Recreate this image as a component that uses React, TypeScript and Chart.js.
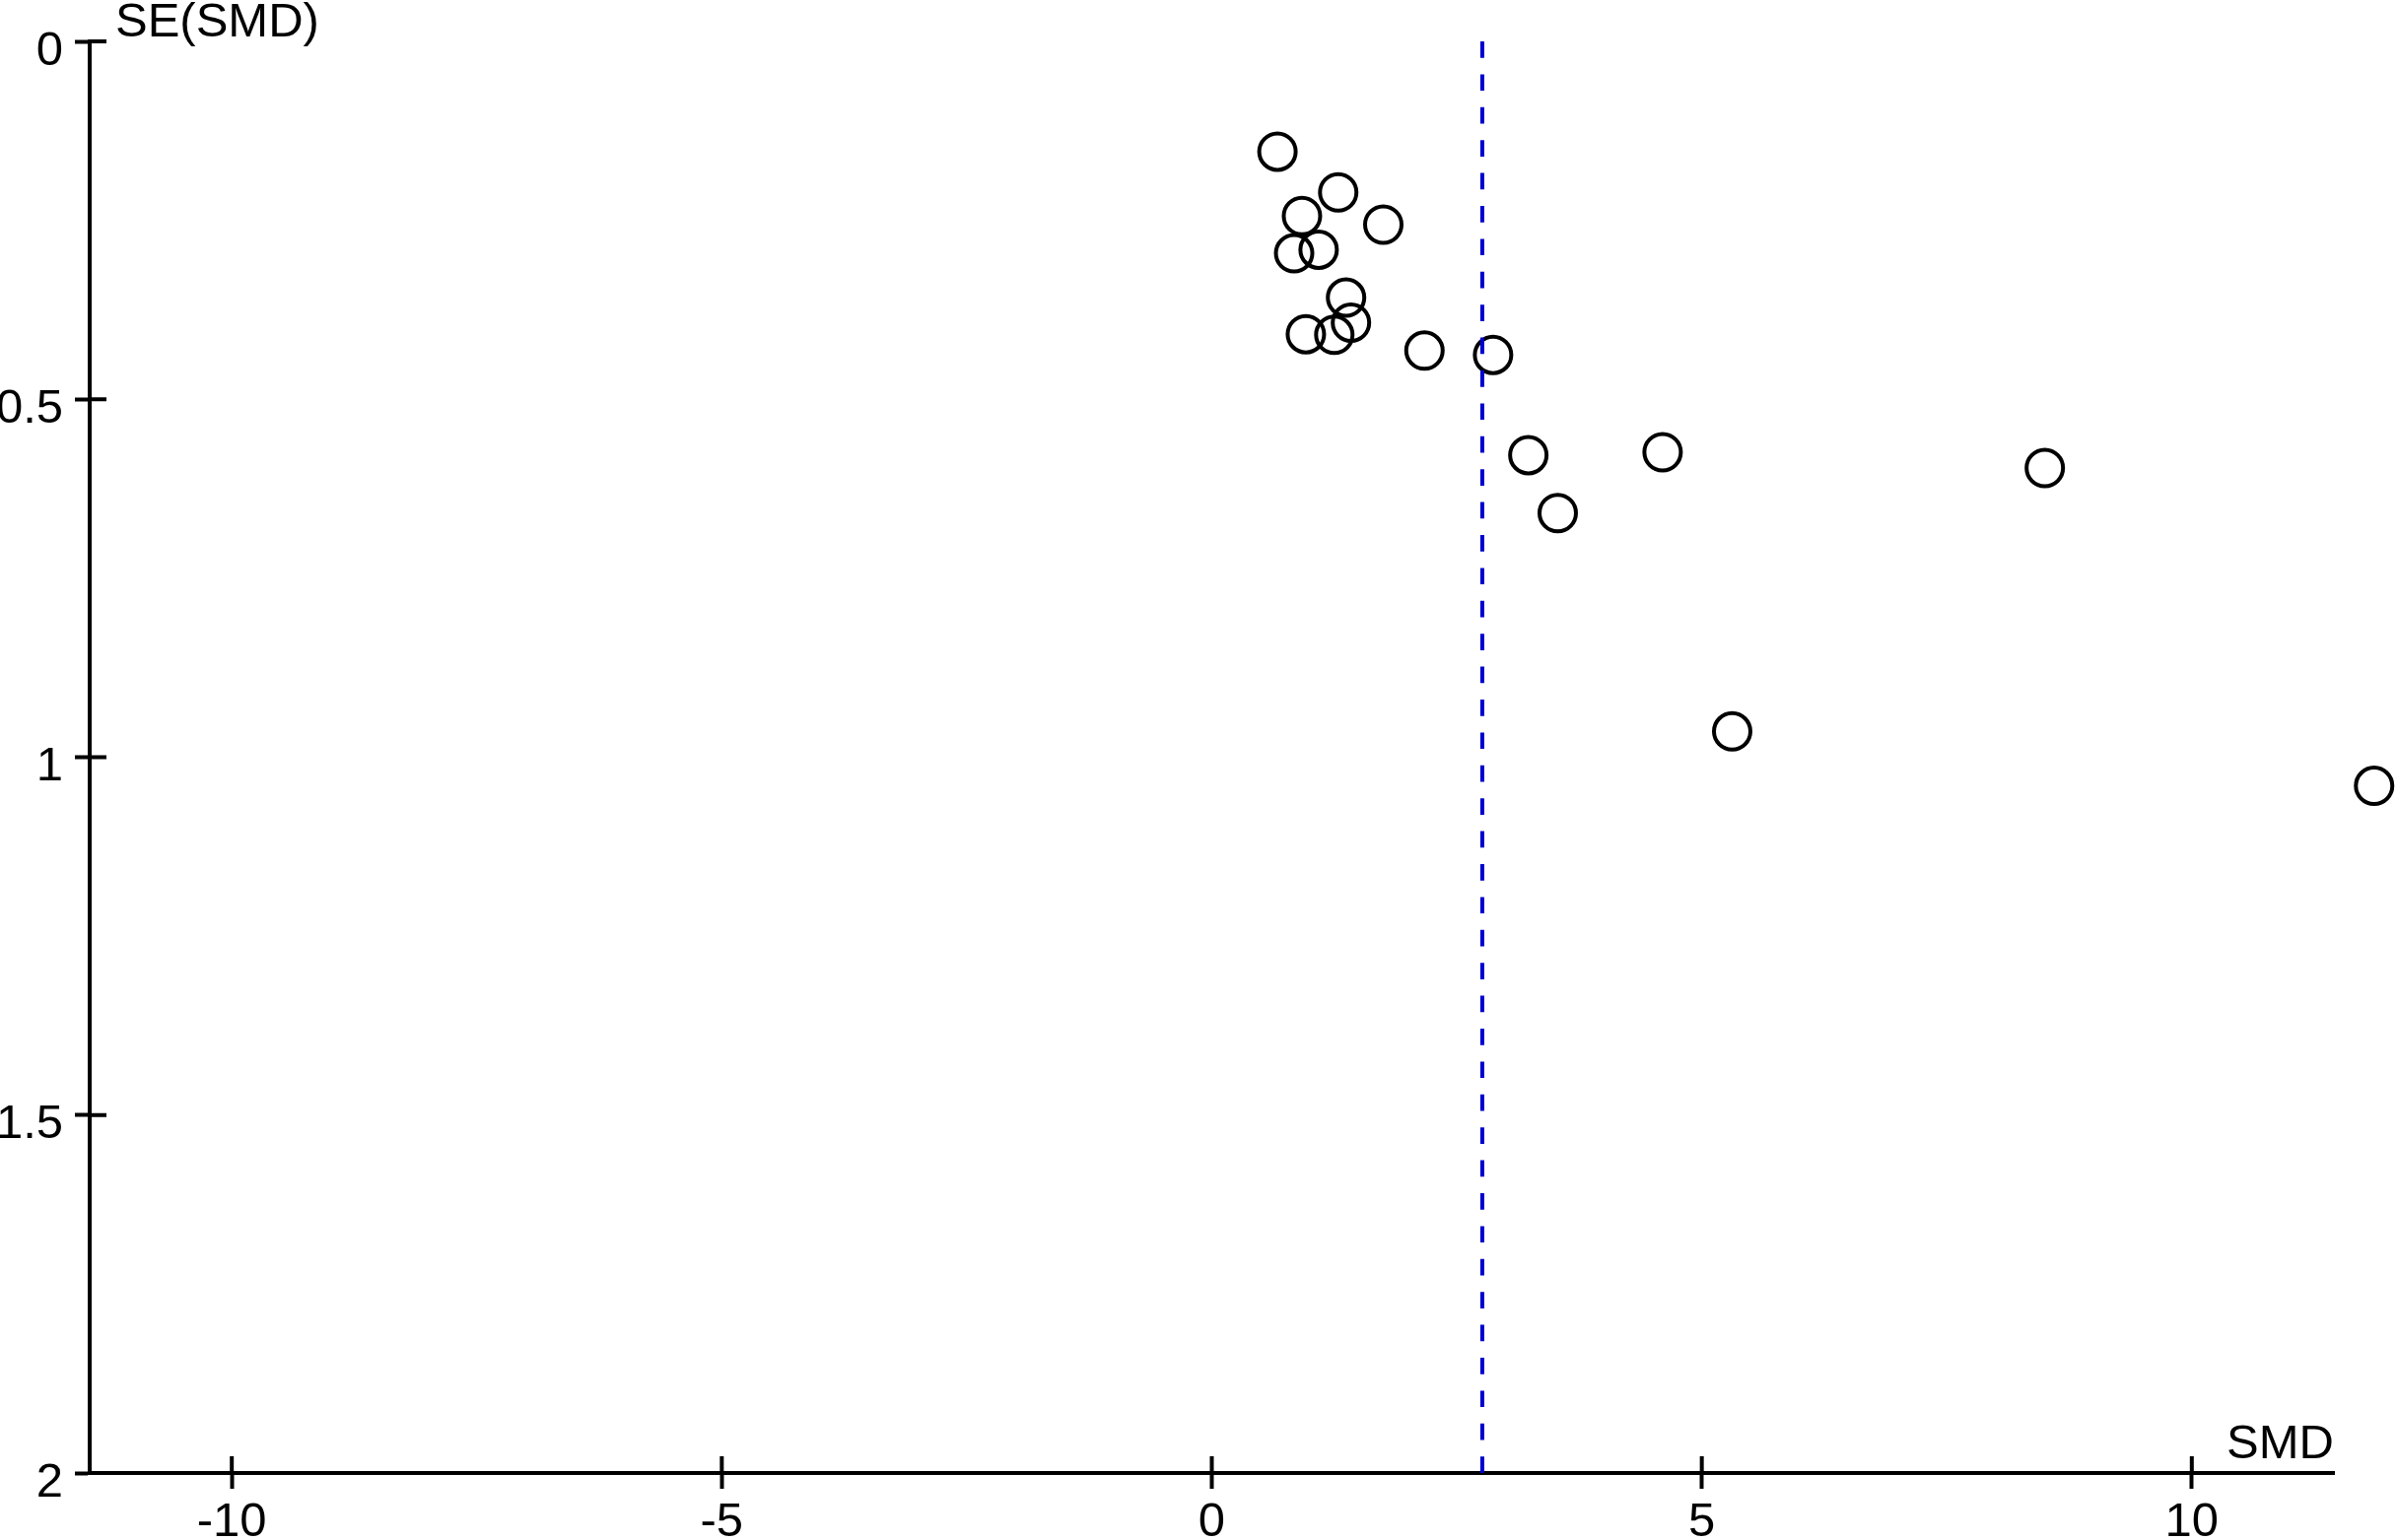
import React, { useEffect, useRef } from "react";
import { Chart, registerables } from "chart.js";

Chart.register(...registerables);

// Study effects (SMD) and their standard errors
const smdValues = [0.67, 1.29, 0.92, 1.75, 0.84, 1.09, 1.37, 1.42, 0.96, 1.25, 2.17, 2.87, 3.23, 4.6, 3.53, 8.5, 5.31, 11.86];
const seValues = [0.154, 0.211, 0.244, 0.256, 0.296, 0.291, 0.358, 0.393, 0.409, 0.41, 0.432, 0.438, 0.578, 0.574, 0.659, 0.596, 0.964, 1.04];
const pooledSMD = [2.76];
const xTicks = [-10, -5, 0, 5, 10];
const yTicks = [0, 0.5, 1, 1.5, 2];
const xRange = [-11.45, 11.45];
const yRange = [0, 2];
const xTitle = "SMD";
const yTitle = "SE(SMD)";

const FONT = "'Liberation Sans', Arial, sans-serif";
const FONT_SIZE = 49;

export default function App() {
  const ref = useRef<HTMLCanvasElement | null>(null);

  useEffect(() => {
    const canvas = ref.current;
    if (!canvas) return;

    // let points that lie beyond the axis end (as in the reference) still be drawn
    const widenArea = {
      id: "widenArea",
      beforeDatasetsDraw(chart: any) {
        chart.$savedArea = chart.chartArea;
        chart.chartArea = { ...chart.chartArea, right: chart.width, left: 0 };
      },
      afterDatasetsDraw(chart: any) {
        if (chart.$savedArea) chart.chartArea = chart.$savedArea;
      },
    };

    const innerTicks = {
      id: "innerTicks",
      afterDraw(chart: any) {
        const { ctx, chartArea } = chart;
        const xs = chart.scales.x;
        const ys = chart.scales.y;
        ctx.save();
        ctx.strokeStyle = "#000";
        ctx.lineWidth = 4;
        ctx.beginPath();
        xs.ticks.forEach((t: any) => {
          const px = xs.getPixelForValue(t.value);
          ctx.moveTo(px, chartArea.bottom);
          ctx.lineTo(px, chartArea.bottom - 17);
        });
        ys.ticks.forEach((t: any) => {
          const py = ys.getPixelForValue(t.value);
          ctx.moveTo(chartArea.left, py);
          ctx.lineTo(chartArea.left + 17, py);
        });
        ctx.stroke();
        ctx.fillStyle = "#000";
        ctx.font = `${FONT_SIZE}px ${FONT}`;
        ctx.textAlign = "left";
        ctx.textBaseline = "alphabetic";
        ctx.fillText(yTitle, 117, 37);
        ctx.textAlign = "right";
        ctx.fillText(xTitle, chartArea.right, chartArea.bottom - 15);
        ctx.restore();
      },
    };

    const chart = new Chart(canvas, {
      type: "scatter",
      data: {
        datasets: [
          {
            type: "line",
            data: [
              { x: pooledSMD[0], y: yRange[0] },
              { x: pooledSMD[0], y: yRange[1] },
            ],
            borderColor: "#0000cc",
            borderWidth: 4,
            borderDash: [16.7, 16.7],
            pointRadius: 0,
            fill: false,
          } as any,
          {
            type: "scatter",
            data: smdValues.map((v, i) => ({ x: v, y: seValues[i] })),
            pointRadius: 18.5,
            pointHoverRadius: 18.5,
            pointBorderWidth: 4,
            borderColor: "#000",
            backgroundColor: "rgba(0,0,0,0)",
            clip: false,
          } as any,
        ],
      },
      options: {
        responsive: false,
        animation: false,
        devicePixelRatio: 1,
        layout: { padding: { top: 42, right: 63, left: 0, bottom: 0 } },
        plugins: {
          legend: { display: false },
          tooltip: { enabled: false },
          title: { display: false },
        },
        scales: {
          x: {
            type: "linear",
            position: "bottom",
            min: xRange[0],
            max: xRange[1],
            afterFit: (s: any) => {
              s.height = 68;
            },
            afterBuildTicks: (s: any) => {
              s.ticks = xTicks.map((v) => ({ value: v }));
            },
            ticks: {
              autoSkip: false,
              maxRotation: 0,
              padding: 5,
              color: "#000",
              font: { family: FONT, size: FONT_SIZE },
              callback: (v: any) => String(v),
            },
            grid: {
              drawOnChartArea: false,
              drawTicks: true,
              tickLength: 16,
              tickWidth: 4,
              tickColor: "#000",
            },
            border: { display: true, color: "#000", width: 4 },
          },
          y: {
            type: "linear",
            position: "left",
            reverse: true,
            min: yRange[0],
            max: yRange[1],
            afterFit: (s: any) => {
              s.width = 91;
            },
            afterBuildTicks: (s: any) => {
              s.ticks = yTicks.map((v) => ({ value: v }));
            },
            ticks: {
              autoSkip: false,
              padding: 12,
              labelOffset: 10,
              color: "#000",
              font: { family: FONT, size: FONT_SIZE },
              callback: (v: any) => String(v),
            },
            grid: {
              drawOnChartArea: false,
              drawTicks: true,
              tickLength: 15,
              tickWidth: 4,
              tickColor: "#000",
            },
            border: { display: true, color: "#000", width: 4 },
          },
        },
      },
      plugins: [widenArea, innerTicks],
    });

    return () => chart.destroy();
  }, []);

  return (
    <div style={{ position: "absolute", left: 0, top: 0, width: 2431, height: 1563, background: "#fff" }}>
      <canvas ref={ref} width={2431} height={1563} style={{ display: "block" }} />
    </div>
  );
}
